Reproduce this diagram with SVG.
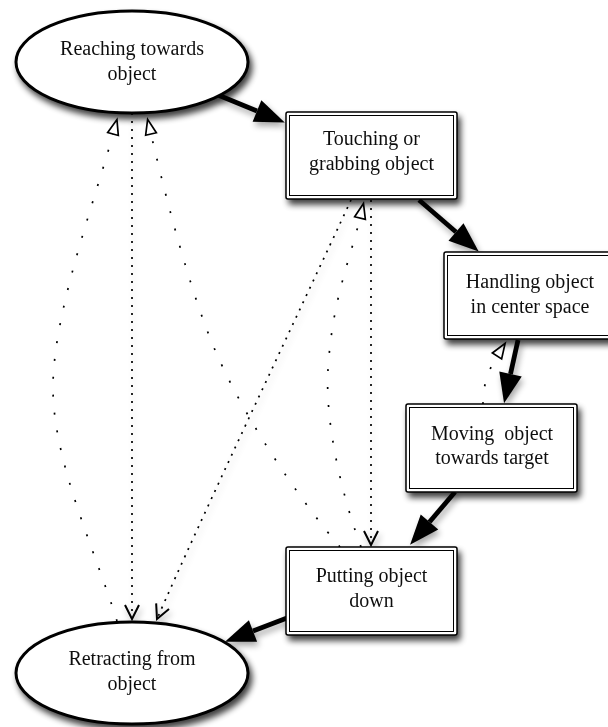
<svg xmlns="http://www.w3.org/2000/svg" width="608" height="727" viewBox="0 0 608 727">
<style>
  .lbl { font-family: "Liberation Serif", "Times New Roman", serif; font-size: 20px; fill: #111; text-anchor: middle; }
  .pre { white-space: pre; }
  .ell { fill: #fff; stroke: #000; stroke-width: 3; }
  .outer { fill: #fff; stroke: #000; stroke-width: 1.5; }
  .inner { fill: none; stroke: #000; stroke-width: 1; }
  .thick { fill: none; stroke: #000; stroke-width: 4.8; }
  .sparse { fill: none; stroke: #000; stroke-width: 1.7; stroke-dasharray: 2 16; }
  .dense { fill: none; stroke: #000; stroke-width: 1.7; stroke-dasharray: 2 6; }
</style>
<defs>
  <filter id="sh" filterUnits="userSpaceOnUse" x="0" y="0" width="608" height="727">
    <feGaussianBlur in="SourceAlpha" stdDeviation="3"/>
    <feOffset dx="3" dy="5"/>
    <feComponentTransfer><feFuncA type="linear" slope="0.75"/></feComponentTransfer>
    <feMerge><feMergeNode/><feMergeNode in="SourceGraphic"/></feMerge>
  </filter>
  <filter id="esh" filterUnits="userSpaceOnUse" x="0" y="0" width="608" height="727">
    <feGaussianBlur in="SourceAlpha" stdDeviation="3"/>
    <feOffset dx="2" dy="4"/>
    <feComponentTransfer><feFuncA type="linear" slope="0.35"/></feComponentTransfer>
    <feMerge><feMergeNode/><feMergeNode in="SourceGraphic"/></feMerge>
  </filter>
  <marker id="fillArrow" markerUnits="userSpaceOnUse" markerWidth="32" markerHeight="26" refX="0" refY="11.5" orient="auto" overflow="visible">
    <path d="M0,0 L30,11.5 L0,23 z" fill="#000" stroke="none"/>
  </marker>
  <marker id="openArrow" markerUnits="userSpaceOnUse" markerWidth="18" markerHeight="14" refX="0" refY="5.5" orient="auto" overflow="visible">
    <path d="M0,0 L15,5.5 L0,11 z" fill="#fff" stroke="#000" stroke-width="1.7" stroke-dasharray="none"/>
  </marker>
  <marker id="veeArrow" markerUnits="userSpaceOnUse" markerWidth="18" markerHeight="16" refX="14" refY="7" orient="auto" overflow="visible">
    <path d="M0,0 L14,7 L0,14" fill="none" stroke="#000" stroke-width="2" stroke-dasharray="none"/>
  </marker>
</defs>

<g id="connectors">
  <!-- solid main flow -->
  <path class="thick" filter="url(#esh)" d="M218,95 L257,111" marker-end="url(#fillArrow)"/>
  <path class="thick" filter="url(#esh)" d="M419,200 L456,232" marker-end="url(#fillArrow)"/>
  <path class="thick" filter="url(#esh)" d="M518,340 L510.5,374" marker-end="url(#fillArrow)"/>
  <path class="thick" filter="url(#esh)" d="M455,492 L429.5,522" marker-end="url(#fillArrow)"/>
  <path class="thick" filter="url(#esh)" d="M287,618 L253,631" marker-end="url(#fillArrow)"/>
  <!-- dotted: open triangle heads -->
  <path class="sparse" d="M117,621 C95,550 52,460 53,385 C54,310 95,200 113,134" marker-end="url(#openArrow)"/>
  <path class="sparse" d="M340,547 C300,500 245,420 215,350 C185,280 157,160 151,134" marker-end="url(#openArrow)"/>
  <path class="sparse" d="M361,547 C340,490 325,420 328,370 C332,300 350,260 360,218" marker-end="url(#openArrow)"/>
  <path class="sparse" d="M483,404 C482,390 488,370 497,356" marker-end="url(#openArrow)"/>
  <!-- dotted: vee heads -->
  <path class="dense" filter="url(#esh)" d="M132,113 L132,619" marker-end="url(#veeArrow)"/>
  <path class="dense" filter="url(#esh)" d="M351,200 C300,310 200,520 157,619" marker-end="url(#veeArrow)"/>
  <path class="dense" filter="url(#esh)" d="M371,200 L371,545" marker-end="url(#veeArrow)"/>
</g>

<g id="reaching" filter="url(#sh)">
  <ellipse class="ell" cx="132" cy="62" rx="116" ry="51"/>
  <text class="lbl" x="132" y="55">Reaching towards</text>
  <text class="lbl" x="132" y="80">object</text>
</g>

<g id="touching" filter="url(#sh)">
  <rect class="outer" x="286" y="112" width="171" height="87" rx="2"/>
  <rect class="inner" x="289.5" y="115.5" width="164" height="80"/>
  <text class="lbl" x="371.5" y="145">Touching or</text>
  <text class="lbl" x="371.5" y="170">grabbing object</text>
</g>

<g id="handling" filter="url(#sh)">
  <rect class="outer" x="444" y="252" width="172" height="87" rx="2"/>
  <rect class="inner" x="447.5" y="255.5" width="165" height="80"/>
  <text class="lbl" x="530" y="288">Handling object</text>
  <text class="lbl" x="530" y="313">in center space</text>
</g>

<g id="moving" filter="url(#sh)">
  <rect class="outer" x="406" y="404" width="171" height="88" rx="2"/>
  <rect class="inner" x="409.5" y="407.5" width="164" height="81"/>
  <text class="lbl pre" x="492" y="440">Moving  object</text>
  <text class="lbl" x="492" y="464">towards target</text>
</g>

<g id="putting" filter="url(#sh)">
  <rect class="outer" x="286" y="547" width="171" height="88" rx="2"/>
  <rect class="inner" x="289.5" y="550.5" width="164" height="81"/>
  <text class="lbl" x="371.5" y="582">Putting object</text>
  <text class="lbl" x="371.5" y="607">down</text>
</g>

<g id="retracting" filter="url(#sh)">
  <ellipse class="ell" cx="132" cy="673" rx="116" ry="51"/>
  <text class="lbl" x="132" y="665">Retracting from</text>
  <text class="lbl" x="132" y="690">object</text>
</g>
</svg>
